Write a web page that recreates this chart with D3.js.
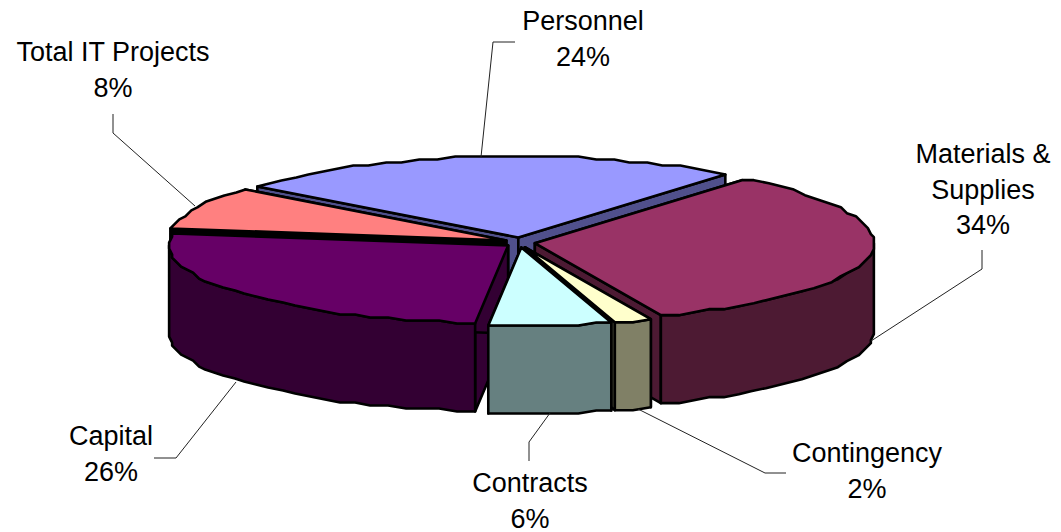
<!DOCTYPE html>
<html>
<head>
<meta charset="utf-8">
<script src="https://d3js.org/d3.v7.min.js"></script>
<style>
html,body{margin:0;padding:0;background:#fff;}
svg{display:block;}
text{font-family:"Liberation Sans",Arial,sans-serif;font-size:27px;fill:#000;text-anchor:middle;}
</style>
</head>
<body>
<svg id="chart" width="1061" height="532"></svg>
<script>
// ---- data ----
const categories = ["Personnel","Materials & Supplies","Contingency","Contracts","Capital","Total IT Projects"];
const values = [24,34,2,6,26,8];
const topColors = ["#9999FF","#993366","#FFFFCC","#CCFFFF","#660066","#FF8080"];
const sideColors = ["#50508C","#4D1A33","#808066","#668080","#330033","#000000"];
const drawOrder = ["Personnel","Total IT Projects","Materials & Supplies","Capital","Contingency","Contracts"];
const labelLines = [["Personnel","24%"],["Materials &","Supplies","34%"],["Contingency","2%"],["Contracts","6%"],["Capital","26%"],["Total IT Projects","8%"]];

// ---- layout ----
const W=1061,H=532, cx=520, cy=242.5, rx=339, ryBack=81, ryFront=78, depth=88, explodeX=15, explodeY=5;
const grid=3, stepDeg=3;
const labelPos = [[583,30],[983,163],[867,462],[530,492],[111,445],[113,61]];
const leaders = [
 [[515,42],[493,42],[481,157]],
 [[982,250],[982,269],[871,341]],
 [[786,473],[765,473],[638,409]],
 [[529,461],[529,442],[550,413]],
 [[154,458],[176,458],[236,382]],
 [[113,114],[113,133],[195,206]]
];

const svg=d3.select("#chart");
const rad=d=>d*Math.PI/180;
const pie=d3.pie().sort(null).startAngle(rad(-50.3)).endAngle(rad(309.7));
const arcs=pie(values);

// the chart's 3-D perspective shifts the drawn angles slightly from the nominal ones
const perspective=d3.scaleLinear()
  .domain([-50.3,36.1,158.5,165.7,187.3,280.9,309.7])
  .range([-50.3,37.5,158,164.4,185.7,279,310]);

const q=v=>Math.round(v/grid)*grid;
function rimPoint(c,a){ // a in degrees, clockwise from top
  const t=rad(a), cs=Math.cos(t);
  return [c[0]+q(rx*Math.sin(t)), c[1]-q((cs>0?ryBack:ryFront)*cs)];
}
function arcPoints(c,a0,a1){
  const n=Math.max(1,Math.round((a1-a0)/stepDeg));
  return d3.range(n+1).map(i=>rimPoint(c,a0+(a1-a0)*i/n));
}
const line=d3.line().curve(d3.curveLinear);
const closed=pts=>line(pts)+"Z";
const down=p=>[p[0],p[1]+depth];

const slices=arcs.map((d,i)=>{
  const a0=perspective(d.startAngle*180/Math.PI), a1=perspective(d.endAngle*180/Math.PI);
  const mid=rad((a0+a1)/2);
  const apex=[cx+explodeX*Math.sin(mid), cy-explodeY*Math.cos(mid)];
  return {name:categories[i],a0,a1,apex,top:topColors[i],side:sideColors[i]};
});

const g=svg.append("g").attr("stroke","#000").attr("stroke-width",2.6).attr("stroke-linejoin","round");
drawOrder.forEach(name=>{
  const s=slices.find(x=>x.name===name);
  const sg=g.append("g");
  const wall=a=>{
    const p=rimPoint(s.apex,a);
    return closed([s.apex,p,down(p),down(s.apex)]);
  };
  sg.append("path").attr("d",wall(s.a0)).attr("fill",s.side);
  sg.append("path").attr("d",wall(s.a1)).attr("fill",s.side);
  const f0=Math.max(s.a0,90), f1=Math.min(s.a1,270);
  if(f1>f0){
    const t=arcPoints(s.apex,f0,f1);
    sg.append("path").attr("d",closed(t.concat(t.map(down).reverse()))).attr("fill",s.side);
  }
  const pts=[s.apex].concat(arcPoints(s.apex,s.a0,s.a1));
  sg.append("path").attr("d",closed(pts)).attr("fill",s.top);
});

// leader lines
svg.append("g").selectAll("path").data(leaders).join("path")
  .attr("d",d=>line(d)).attr("fill","none").attr("stroke","#222").attr("stroke-width",1);

// labels
const lineHeight=35.5;
const lab=svg.append("g").selectAll("text").data(labelLines).join("text")
  .attr("x",(d,i)=>labelPos[i][0]).attr("y",(d,i)=>labelPos[i][1]);
lab.selectAll("tspan").data(d=>d).join("tspan")
  .attr("x",function(){return d3.select(this.parentNode).attr("x");})
  .attr("dy",(d,i)=>i?lineHeight:0).text(d=>d);
</script>
</body>
</html>
